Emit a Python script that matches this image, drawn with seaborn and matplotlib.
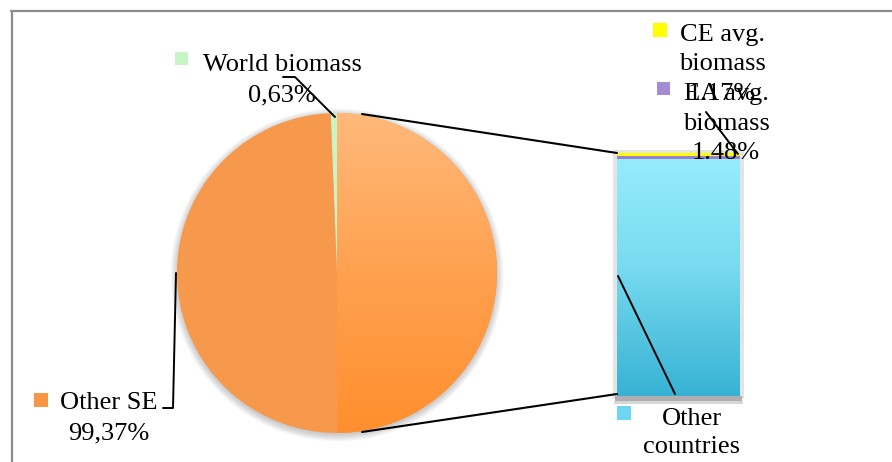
import numpy as np
import matplotlib
matplotlib.use("Agg")
import matplotlib.pyplot as plt
import seaborn as sns
from matplotlib.patches import Rectangle, Wedge, Circle
from matplotlib.lines import Line2D
from matplotlib.colors import LinearSegmentedColormap

# Share of sustainable energy (SE): world biomass vs. other SE
pie_labels = ["World biomass", "Other SE"]
pie_values = [0.63, 99.37]
pie_value_text = ["0,63%", "99,37%"]

# Breakdown of the world biomass share (stacked bar, bottom to top)
bar_labels = ["Other countries", "EA avg. biomass", "CE avg. biomass"]
bar_values = [97.35, 1.48, 1.17]
bar_value_text = ["", "1.48%", "1.17%"]

W, H = 892, 462
sns.set_theme(style="white")
plt.rcParams["font.family"] = ["Liberation Serif", "DejaVu Serif"]

fig = plt.figure(figsize=(W / 100, H / 100), dpi=100)
fig.patch.set_facecolor("white")


def fx(x):
    return x / W


def fy(y):
    return 1 - y / H


def fline(xs, ys, **kw):
    kw.setdefault("color", "black")
    kw.setdefault("lw", 1.5)
    fig.add_artist(Line2D([fx(v) for v in xs], [fy(v) for v in ys],
                          transform=fig.transFigure, **kw))


def frect(x0, y0, x1, y1, color, z=1):
    fig.add_artist(Rectangle((fx(x0), fy(y1)), (x1 - x0) / W, (y1 - y0) / H,
                             transform=fig.transFigure, facecolor=color,
                             edgecolor="none", zorder=z))


grad = np.linspace(0, 1, 256).reshape(-1, 1)

# ---- pie ----
pcx, pcy, pr = 337, 273, 160
axp = fig.add_axes([fx(pcx - pr), fy(pcy + pr), 2 * pr / W, 2 * pr / H])
axp.patch.set_alpha(0)

# soft drop shadow under the pie
for k in range(6):
    axp.add_patch(Circle((0, -0.012), 1.0 + 0.008 * k, color="#000000",
                         alpha=0.035, lw=0, zorder=0, clip_on=False))

green = "#C8F5C6"
orange = "#F7994C"
wedges, _ = axp.pie(pie_values, colors=[green, orange],
                    startangle=90 + pie_values[0] * 3.6, counterclock=False,
                    radius=1, wedgeprops=dict(linewidth=0))
for w in wedges:
    w.set_zorder(1)

cmap_or = LinearSegmentedColormap.from_list("or", ["#FFB97A", "#FFA150", "#FF8F2E"])
im = axp.imshow(grad, extent=(0, 1, -1, 1), origin="upper", cmap=cmap_or,
                aspect="auto", zorder=2)
im.set_clip_path(Wedge((0, 0), 1, -90, 90, transform=axp.transData))
axp.set_xlim(-1, 1)
axp.set_ylim(-1, 1)
axp.set_axis_off()

# ---- stacked bar ----
bx0, bx1, by0, by1 = 617, 740, 153, 396

# bar shadow
frect(613, 150, 744, 399, "#E4E4E4", z=-2)
frect(615, 396, 742, 401, "#AFAFAF", z=-1)
frect(614, 401, 743, 404, "#D6D6D6", z=-1)

axb = fig.add_axes([fx(bx0), fy(by1), (bx1 - bx0) / W, (by1 - by0) / H])
axb.patch.set_alpha(0)
bar_colors = ["#5FCBE8", "#9B80CB", "#FFFF00"]
bottoms = np.concatenate([[0], np.cumsum(bar_values)[:-1]])
for lab, val, b, col in zip(bar_labels, bar_values, bottoms, bar_colors):
    sns.barplot(x=["share"], y=[val], bottom=b, color=col, width=1,
                saturation=1, linewidth=0, ax=axb)

cmap_cy = LinearSegmentedColormap.from_list("cy", [(0, "#95ECFD"), (0.45, "#79DBF0"), (1, "#37B2D4")])
base_patch = axb.patches[0]
imb = axb.imshow(grad, extent=(-0.5, 0.5, 0, bar_values[0]), origin="upper",
                 cmap=cmap_cy, aspect="auto", zorder=base_patch.get_zorder() + 0.1)
imb.set_clip_path(base_patch)
axb.set_xlim(-0.5, 0.5)
axb.set_ylim(0, 100)
axb.set_axis_off()

# ---- frame ----
fline([11, 892], [11, 11], color="#8C8C8C", lw=1.6)
fline([12, 12], [11, 462], color="#8C8C8C", lw=1.6)

# ---- connectors between pie and bar ----
fline([362, 617], [114, 153])
fline([362, 432], [432, 432], lw=0)
fline([362, 617], [432, 394])

# ---- data labels ----
FS = 19


def label(lines, cx, base, step, key, key_color):
    for i, s in enumerate(lines):
        fig.text(fx(cx), fy(base + i * step), s, ha="center", va="baseline",
                 fontsize=FS, color="black", zorder=3)
    x0, y0, size = key
    frect(x0, y0, x0 + size, y0 + size, key_color, z=3)


label([pie_labels[0], pie_value_text[0]], 282, 71, 30, (175, 52, 13), green)
label(["Other SE", pie_value_text[1]], 109, 409, 30, (34, 393, 14), "#F79646")
label(["CE avg.", "biomass", bar_value_text[2]], 722, 41, 29.5, (653, 23, 14), "#FFFF00")
label(["EA avg.", "biomass", bar_value_text[1]], 726, 100, 29.5, (657, 82, 13), "#A68DD3")
label(["Other", "countries"], 692, 425, 28, (617, 406, 14), "#6ED6F0")

# label leader lines
fline([283, 295, 335], [77, 77, 117], lw=1.4)
fline([163, 173, 176], [408, 408, 273], lw=1.4)
fline([706, 738], [112, 154], lw=1.4)
fline([618, 675], [276, 394], lw=1.4)

fig.savefig("out.png", dpi=100, facecolor="white")
